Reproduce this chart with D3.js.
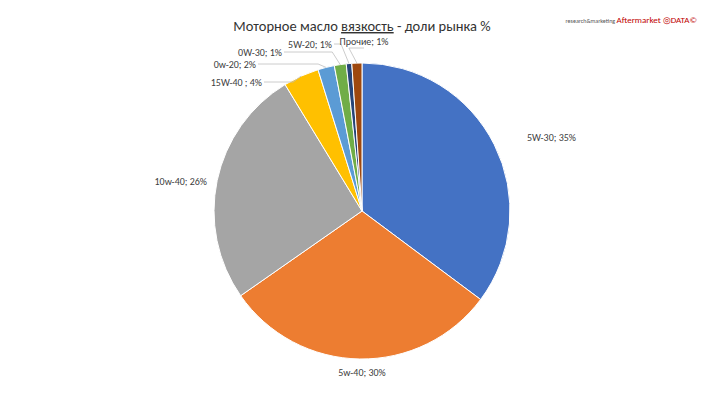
<!DOCTYPE html>
<html><head><meta charset="utf-8">
<script src="https://cdn.jsdelivr.net/npm/d3@7"></script>
<style>body{margin:0;background:#fff}text{font-family:Calibri,Carlito,"Liberation Sans",Arial,sans-serif}</style>
</head><body><svg id="chart" width="711" height="400"></svg>
<script>
const names = ["5W-30", "5w-40", "10w-40", "15W-40  ", "0w-20", "0W-30", "5W-20", "Прочие"]
const shares = [35.2, 30.1, 26.0, 3.9, 1.8, 1.3, 0.6, 1.1]
const shown = ["35%", "30%", "26%", "4%", "2%", "1%", "1%", "1%"]
const colors = ["#4472c4", "#ed7d31", "#a5a5a5", "#ffc000", "#5b9bd5", "#70ad47", "#264478", "#9e480e"]

// label anchor points (layout only)
const labelPos = [[527,141,"start"],[362,376,"middle"],[207,185,"end"],[262,86,"end"],[256,68,"end"],[282,56,"end"],[332,48,"end"],[364,45,"middle"]]

let svg = d3.select("#chart")
let cx = 362, cy = 211, r = 148

svg.append("text").attr("x", 362).attr("y", 31).attr("text-anchor", "middle")
  .attr("font-size", 14.5).attr("fill", "#333")
  .html('Моторное масло <tspan text-decoration="underline">вязкость</tspan> - доли рынка %')

let logo = svg.append("text").attr("x", 697).attr("y", 23).attr("text-anchor", "end")
logo.append("tspan").attr("font-size", 6).attr("fill", "#555").text("research&marketing ")
logo.append("tspan").attr("font-size", 9).attr("fill", "#c00000").text("Aftermarket ")
logo.append("tspan").attr("font-size", 9).attr("fill", "#c00000").text("◎DATA©")

let pie = d3.pie().sort(null).value(d => d)
let arc = d3.arc().innerRadius(0).outerRadius(r)
let arcs = pie(shares)
let g = svg.append("g").attr("transform", `translate(${cx},${cy})`)

g.selectAll("path").data(arcs).enter().append("path")
  .attr("d", arc)
  .attr("fill", (d, i) => colors[i])
  .attr("stroke", "#fff").attr("stroke-width", 1)

// leader lines for the small slices
arcs.forEach((d, i) => {
  if (i < 3) return
  let a = (d.startAngle + d.endAngle) / 2
  let p = [cx + Math.sin(a) * r, cy - Math.cos(a) * r]
  let lp = labelPos[i]
  let end = [lp[2] == "end" ? lp[0] + 2 : lp[0], lp[1] + (lp[2] == "end" ? -4 : 3)]
  svg.append("polyline")
    .attr("points", [end, [p[0] - 8, end[1]], p].map(q => q.join(",")).join(" "))
    .attr("fill", "none").attr("stroke", "#bfbfbf").attr("stroke-width", 0.8)
})

svg.selectAll("text.lbl").data(arcs).enter().append("text").attr("class", "lbl")
  .attr("x", (d, i) => labelPos[i][0]).attr("y", (d, i) => labelPos[i][1])
  .attr("text-anchor", (d, i) => labelPos[i][2])
  .attr("font-size", 10).attr("fill", "#404040")
  .text((d, i) => names[i] + "; " + shown[i])
</script></body></html>
